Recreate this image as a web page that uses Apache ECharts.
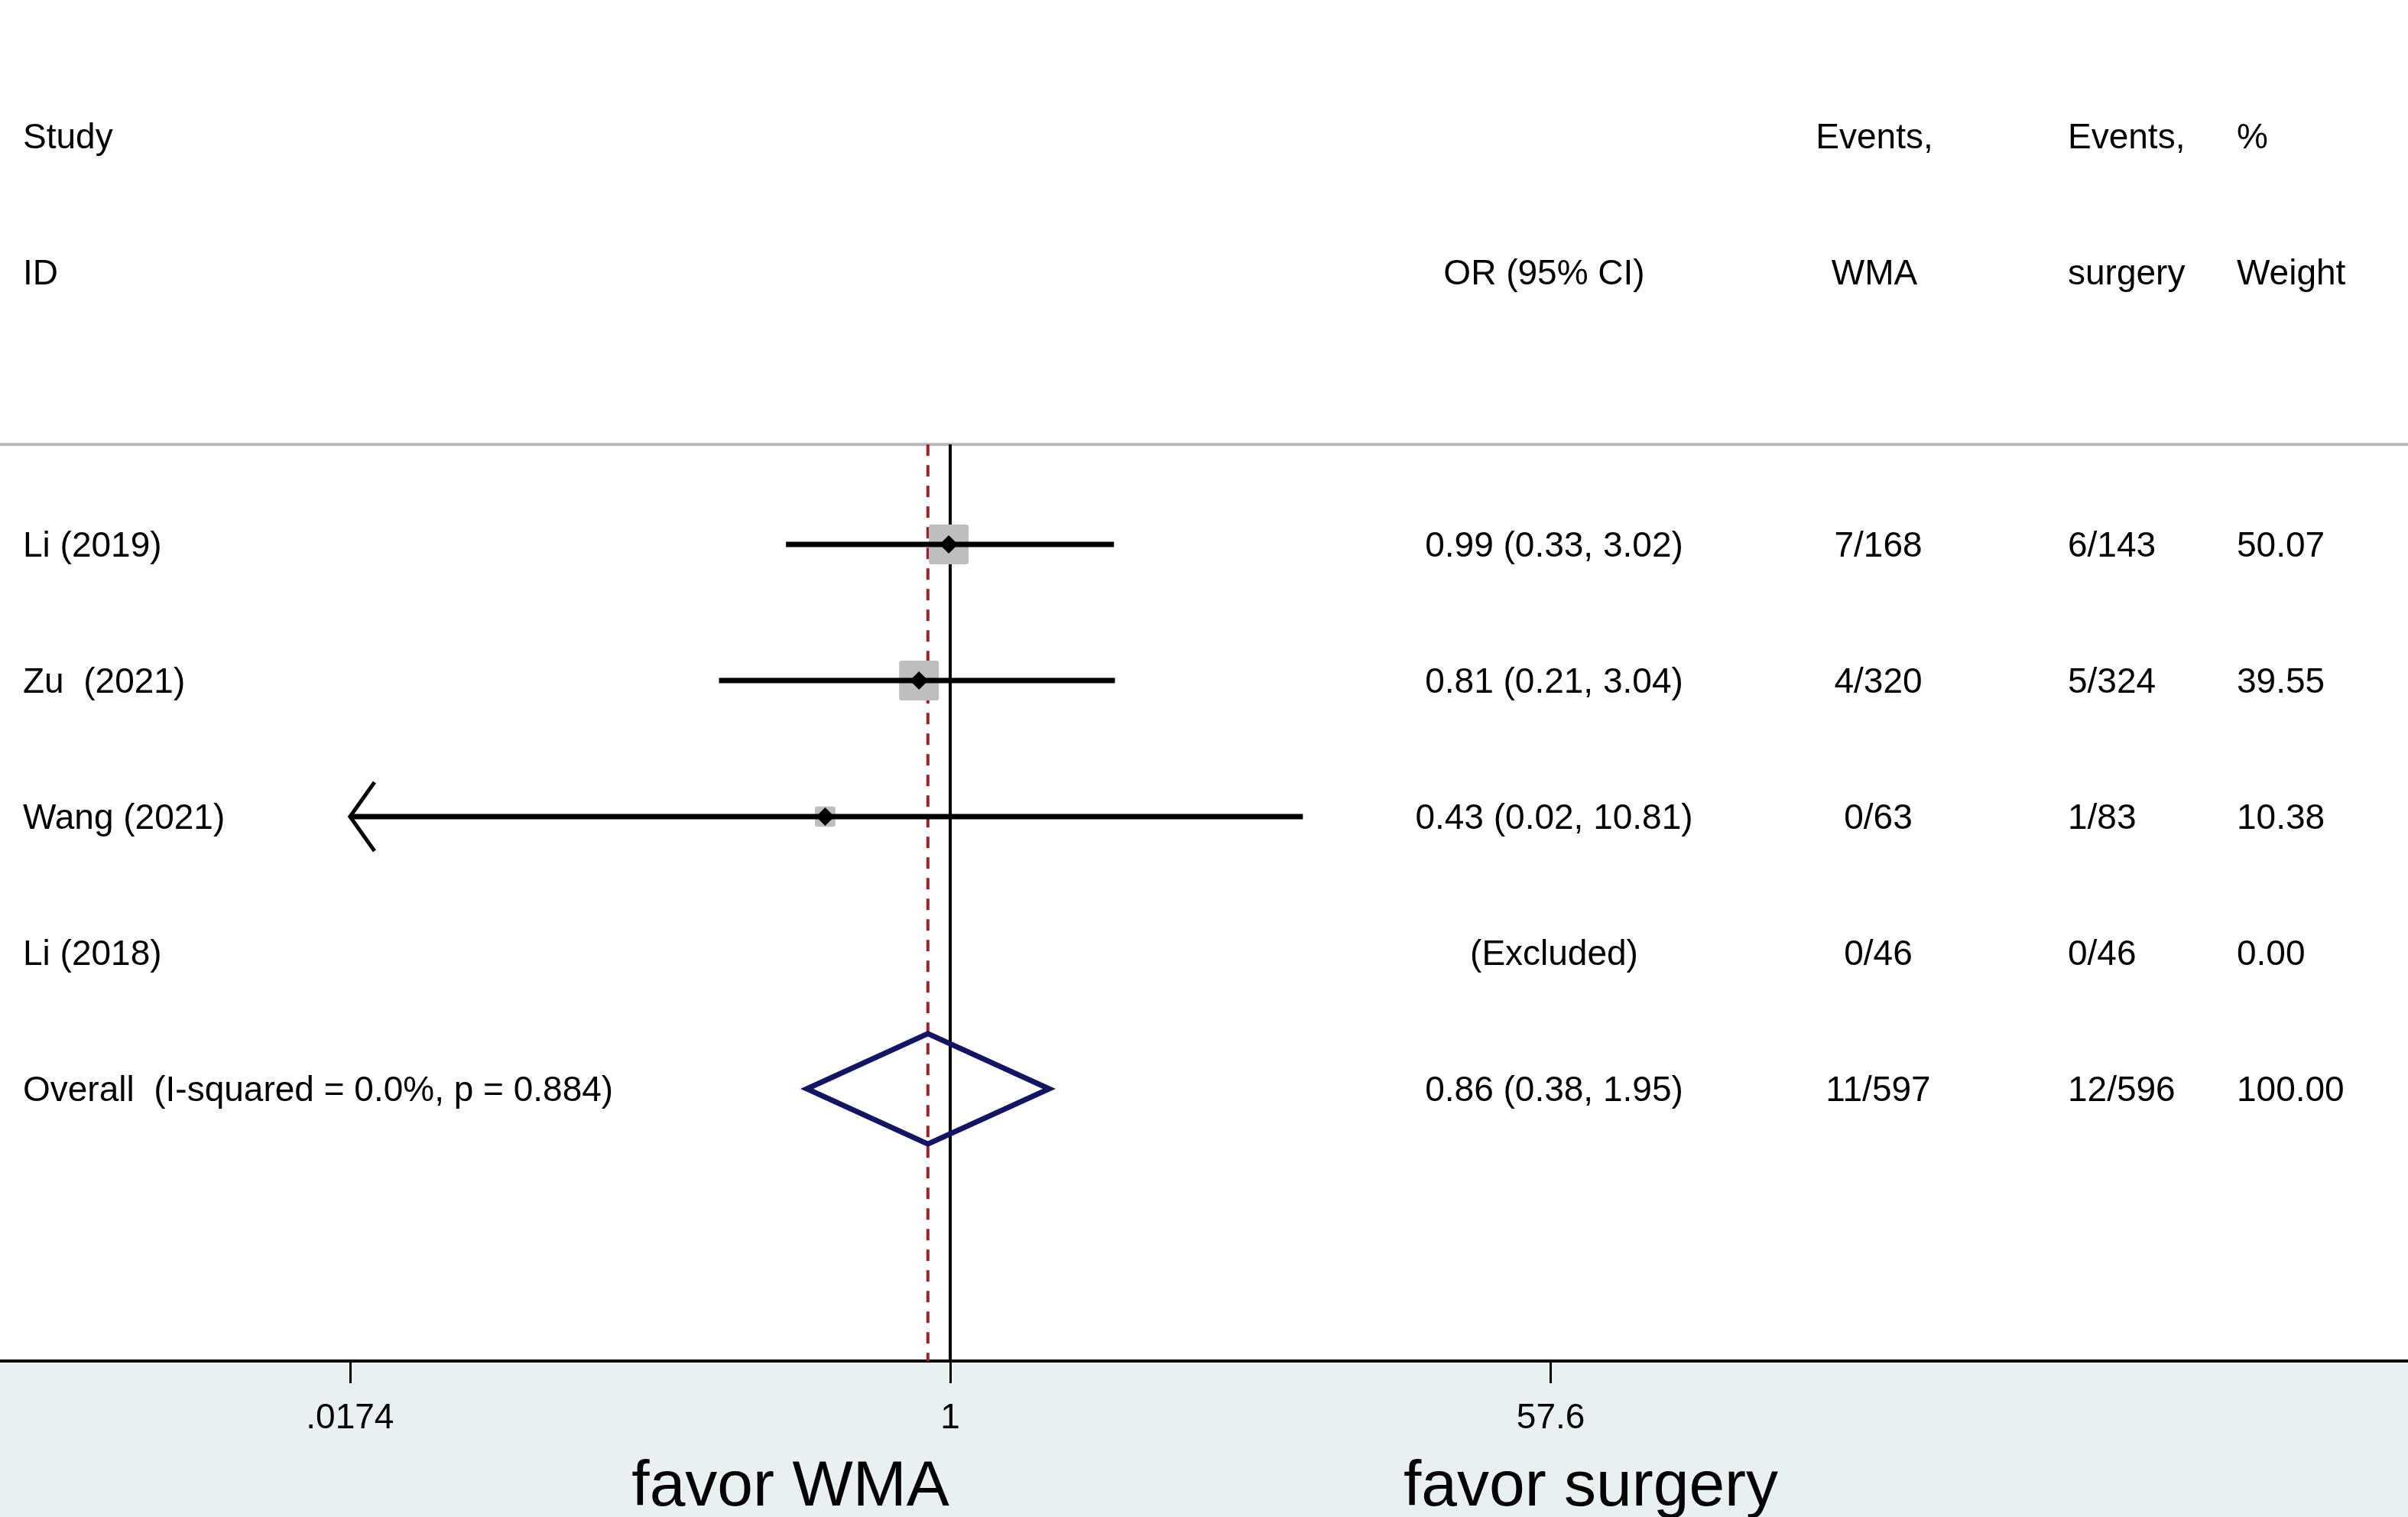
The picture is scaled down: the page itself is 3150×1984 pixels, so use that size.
<!DOCTYPE html>
<html>
<head>
<meta charset="utf-8">
<script src="https://cdn.jsdelivr.net/npm/echarts@6/dist/echarts.min.js"></script>
<style>html,body{margin:0;padding:0;background:#fff}#c{width:3150px;height:1984px}</style>
</head>
<body>
<div id="c"></div>
<script>
// ---------------- data ----------------
const studies = ['Li (2019)', 'Zu  (2021)', 'Wang (2021)', 'Li (2018)'];
const orValue = [0.99, 0.81, 0.43, null];
const ciLower = [0.33, 0.21, 0.0174, null];
const ciUpper = [3.02, 3.04, 10.81, null];
const orText = ['0.99 (0.33, 3.02)', '0.81 (0.21, 3.04)', '0.43 (0.02, 10.81)', '(Excluded)'];
const eventsWMA = ['7/168', '4/320', '0/63', '0/46'];
const eventsSurgery = ['6/143', '5/324', '1/83', '0/46'];
const weightPct = [50.07, 39.55, 10.38, 0.00];

const overallLabel = 'Overall  (I-squared = 0.0%, p = 0.884)';
const overallOR = [0.86, 0.38, 1.95];
const overallText = '0.86 (0.38, 1.95)';
const overallWMA = '11/597';
const overallSurgery = '12/596';
const overallWeight = '100.00';

const headerLine1 = ['Study', '', 'Events,', 'Events,', '%'];
const headerLine2 = ['ID', 'OR (95% CI)', 'WMA', 'surgery', 'Weight'];

const tickValues = [0.0174, 1, 57.6];
const tickLabels = ['.0174', '1', '57.6'];
const favorLabels = ['favor WMA', 'favor surgery'];

// ---------------- layout ----------------
const FONT = '"Liberation Sans", Arial, Helvetica, sans-serif';
const FS = 46;
const LAY = {
  xMin: -6.414, xMax: 9.840, yMin: -4, yMax: 6,
  headerRuleRow: -0.735,
  hdrRow1: -3, hdrRow2: -2, overallRow: 4,
  colStudy: 30, colOR: 2033, colORHead: 2020, colWMA: 2457, colWMAHead: 2452,
  colSurg: 2705, colWeight: 2926,
  textDy: 3,
  boxMax: 52, boxK: 8.3, markHalf: 12, diamondHalfRow: 0.405
};

const chart = echarts.init(document.getElementById('c'));

function txt(x, y, s, align, size) {
  return {
    type: 'text', x: x, y: y + LAY.textDy, z2: 50,
    style: { text: s, fill: '#000', fontSize: size || FS, fontFamily: FONT,
             align: align, verticalAlign: 'middle' }
  };
}

function fmtTick(val) {
  for (let i = 0; i < tickValues.length; i++) {
    if (Math.abs(Math.log(tickValues[i]) - val) < 1e-6) return tickLabels[i];
  }
  return '';
}

const studyData = studies.map((s, i) => [0, i]);

const option = {
  backgroundColor: '#e9f0f2',
  animation: false,
  grid: { left: 0, right: 0, top: 0, bottom: 204, show: true, backgroundColor: '#ffffff', borderWidth: 0 },
  xAxis: {
    type: 'value', min: LAY.xMin, max: LAY.xMax,
    splitLine: { show: false },
    axisLine: { show: true, onZero: false, lineStyle: { color: '#000', width: 4 } },
    axisTick: { show: true, customValues: tickValues.map(v => Math.log(v)), length: 29,
                lineStyle: { color: '#000', width: 3 } },
    axisLabel: { show: true, customValues: tickValues.map(v => Math.log(v)), formatter: fmtTick,
                 color: '#000', fontSize: FS, fontFamily: FONT, margin: 52 }
  },
  yAxis: { type: 'value', min: LAY.yMin, max: LAY.yMax, inverse: true, show: false },
  graphic: [
    { type: 'text', x: 1034, y: 1946, style: { text: favorLabels[0], fill: '#000', fontSize: 84, fontFamily: FONT, align: 'center', verticalAlign: 'middle' } },
    { type: 'text', x: 2081, y: 1946, style: { text: favorLabels[1], fill: '#000', fontSize: 84, fontFamily: FONT, align: 'center', verticalAlign: 'middle' } }
  ],
  series: [
    // header texts, header rule and reference lines
    {
      type: 'custom', coordinateSystem: 'cartesian2d', clip: false, silent: true,
      data: [[0, 0]],
      renderItem: function (params, api) {
        const y1 = api.coord([0, LAY.hdrRow1])[1];
        const y2 = api.coord([0, LAY.hdrRow2])[1];
        const yRule = api.coord([0, LAY.headerRuleRow])[1];
        const yAxisPx = api.coord([0, LAY.yMax])[1];
        const xOne = api.coord([Math.log(1), 0])[0];
        const xOverall = api.coord([Math.log(overallOR[0]), 0])[0];
        const ch = [];
        ch.push({ type: 'line', shape: { x1: 0, y1: yRule, x2: 3150, y2: yRule },
                  style: { stroke: '#b8b8b8', lineWidth: 4 } });
        ch.push({ type: 'line', shape: { x1: xOne, y1: yRule, x2: xOne, y2: yAxisPx },
                  style: { stroke: '#000', lineWidth: 4 } });
        ch.push({ type: 'line', shape: { x1: xOverall, y1: yRule, x2: xOverall, y2: yAxisPx },
                  style: { stroke: '#a3202a', lineWidth: 4, lineDash: [15, 12] } });
        ch.push(txt(LAY.colStudy, y1, headerLine1[0], 'left'));
        ch.push(txt(LAY.colWMAHead, y1, headerLine1[2], 'center'));
        ch.push(txt(LAY.colSurg, y1, headerLine1[3], 'left'));
        ch.push(txt(LAY.colWeight, y1, headerLine1[4], 'left'));
        ch.push(txt(LAY.colStudy, y2, headerLine2[0], 'left'));
        ch.push(txt(LAY.colORHead, y2, headerLine2[1], 'center'));
        ch.push(txt(LAY.colWMAHead, y2, headerLine2[2], 'center'));
        ch.push(txt(LAY.colSurg, y2, headerLine2[3], 'left'));
        ch.push(txt(LAY.colWeight, y2, headerLine2[4], 'left'));
        return { type: 'group', children: ch };
      }
    },
    // study rows
    {
      type: 'custom', coordinateSystem: 'cartesian2d', clip: false, silent: true,
      data: studyData,
      renderItem: function (params, api) {
        const i = api.value(1);
        const y = api.coord([0, i])[1];
        const ch = [];
        if (orValue[i] != null) {
          const xc = api.coord([Math.log(orValue[i]), i])[0];
          const xl = api.coord([Math.log(ciLower[i]), i])[0];
          const xu = api.coord([Math.log(ciUpper[i]), i])[0];
          const sz = Math.min(LAY.boxMax, LAY.boxK * Math.sqrt(weightPct[i]));
          ch.push({ type: 'rect', shape: { x: xc - sz / 2, y: y - sz / 2, width: sz, height: sz, r: 3 },
                    style: { fill: '#bebebe' }, z2: 1 });
          ch.push({ type: 'line', shape: { x1: xl, y1: y, x2: xu, y2: y },
                    style: { stroke: '#000', lineWidth: 7 }, z2: 2 });
          if (ciLower[i] <= tickValues[0]) {
            ch.push({ type: 'polyline', shape: { points: [[xl + 32, y - 45], [xl, y], [xl + 32, y + 45]] },
                      style: { stroke: '#000', lineWidth: 5, fill: null }, z2: 2 });
          }
          const h = LAY.markHalf;
          ch.push({ type: 'polygon', shape: { points: [[xc - h, y], [xc, y - h], [xc + h, y], [xc, y + h]] },
                    style: { fill: '#000' }, z2: 3 });
        }
        ch.push(txt(LAY.colStudy, y, studies[i], 'left'));
        ch.push(txt(LAY.colOR, y, orText[i], 'center'));
        ch.push(txt(LAY.colWMA, y, eventsWMA[i], 'center'));
        ch.push(txt(LAY.colSurg, y, eventsSurgery[i], 'left'));
        ch.push(txt(LAY.colWeight, y, weightPct[i].toFixed(2), 'left'));
        return { type: 'group', children: ch };
      }
    },
    // overall row
    {
      type: 'custom', coordinateSystem: 'cartesian2d', clip: false, silent: true,
      data: [[0, LAY.overallRow]],
      renderItem: function (params, api) {
        const r = api.value(1);
        const y = api.coord([0, r])[1];
        const pL = api.coord([Math.log(overallOR[1]), r]);
        const pU = api.coord([Math.log(overallOR[2]), r]);
        const pT = api.coord([Math.log(overallOR[0]), r - LAY.diamondHalfRow]);
        const pB = api.coord([Math.log(overallOR[0]), r + LAY.diamondHalfRow]);
        const ch = [];
        ch.push({ type: 'polygon', shape: { points: [pL, pT, pU, pB] },
                  style: { stroke: '#141464', lineWidth: 7, fill: null, lineJoin: 'miter' }, z2: 5 });
        ch.push(txt(LAY.colStudy, y, overallLabel, 'left'));
        ch.push(txt(LAY.colOR, y, overallText, 'center'));
        ch.push(txt(LAY.colWMA, y, overallWMA, 'center'));
        ch.push(txt(LAY.colSurg, y, overallSurgery, 'left'));
        ch.push(txt(LAY.colWeight, y, overallWeight, 'left'));
        return { type: 'group', children: ch };
      }
    }
  ]
};
chart.setOption(option);
</script>
</body>
</html>
